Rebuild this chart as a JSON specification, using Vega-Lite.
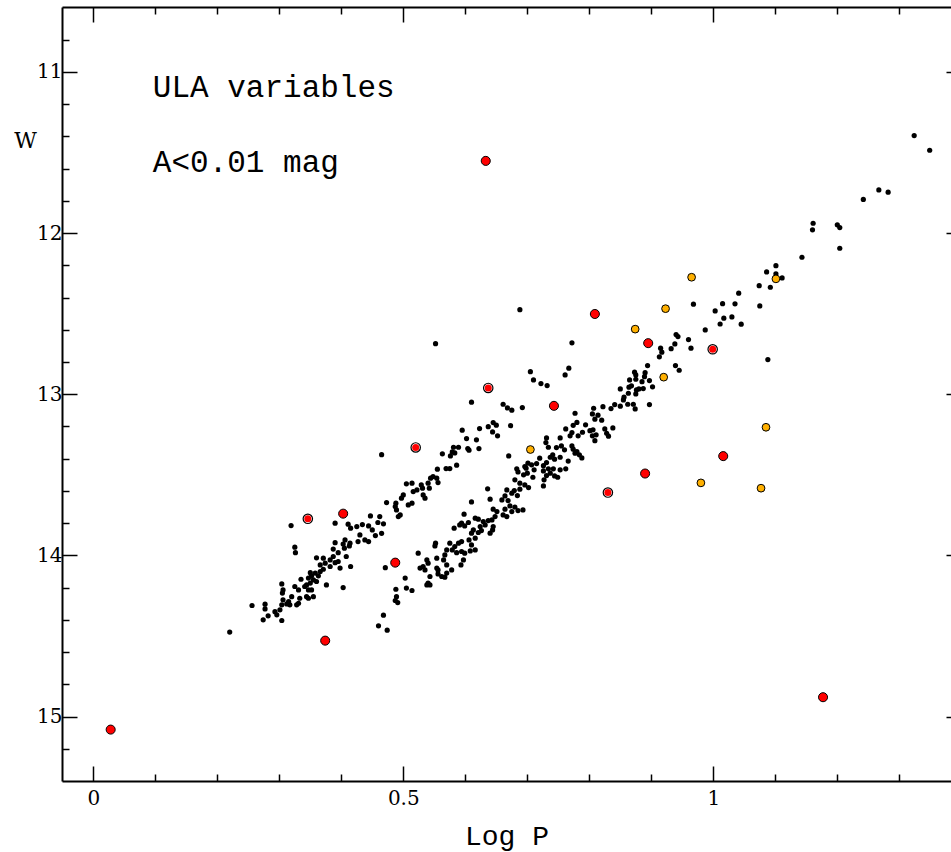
{
  "$schema": "https://vega.github.io/schema/vega-lite/v6.json",
  "width": 889,
  "height": 774,
  "autosize": "none",
  "padding": {"left": 62, "top": 7, "right": 0, "bottom": 71},
  "background": "white",
  "config": {
    "view": {"stroke": null},
    "font": "Liberation Mono",
    "axis": {
      "grid": false,
      "domainColor": "black",
      "domainWidth": 2,
      "tickColor": "black",
      "tickWidth": 1.5,
      "labelFont": "DejaVu Serif",
      "labelFontSize": 20,
      "labelColor": "black",
      "titleFont": "Liberation Mono",
      "titleFontWeight": "normal",
      "titleColor": "black"
    }
  },
  "datasets": {
    "stars": [
      {"logP":1.324,"W":11.395,"type":"main"},{"logP":1.349,"W":11.486,"type":"main"},{"logP":1.267,"W":11.732,"type":"main"},{"logP":1.282,"W":11.746,"type":"main"},{"logP":1.242,"W":11.791,"type":"main"},{"logP":1.161,"W":11.939,"type":"main"},{"logP":1.160,"W":11.980,"type":"main"},{"logP":1.200,"W":11.949,"type":"main"},{"logP":1.204,"W":11.966,"type":"main"},{"logP":1.204,"W":12.094,"type":"main"},{"logP":1.143,"W":12.150,"type":"main"},{"logP":1.101,"W":12.202,"type":"main"},{"logP":1.086,"W":12.241,"type":"main"},{"logP":1.101,"W":12.253,"type":"main"},{"logP":1.111,"W":12.278,"type":"main"},{"logP":1.074,"W":12.326,"type":"main"},{"logP":1.092,"W":12.336,"type":"main"},{"logP":1.041,"W":12.373,"type":"main"},{"logP":0.968,"W":12.441,"type":"main"},{"logP":1.015,"W":12.438,"type":"main"},{"logP":1.035,"W":12.439,"type":"main"},{"logP":1.075,"W":12.452,"type":"main"},{"logP":1.003,"W":12.483,"type":"main"},{"logP":1.017,"W":12.528,"type":"main"},{"logP":1.030,"W":12.520,"type":"main"},{"logP":1.011,"W":12.564,"type":"main"},{"logP":1.045,"W":12.565,"type":"main"},{"logP":0.987,"W":12.601,"type":"main"},{"logP":0.940,"W":12.630,"type":"main"},{"logP":0.943,"W":12.642,"type":"main"},{"logP":0.960,"W":12.661,"type":"main"},{"logP":0.938,"W":12.688,"type":"main"},{"logP":0.964,"W":12.714,"type":"main"},{"logP":0.915,"W":12.714,"type":"main"},{"logP":0.932,"W":12.717,"type":"main"},{"logP":0.917,"W":12.739,"type":"main"},{"logP":0.913,"W":12.768,"type":"main"},{"logP":1.088,"W":12.785,"type":"main"},{"logP":0.894,"W":12.822,"type":"main"},{"logP":0.939,"W":12.822,"type":"main"},{"logP":0.945,"W":12.851,"type":"main"},{"logP":0.873,"W":12.863,"type":"main"},{"logP":0.890,"W":12.866,"type":"main"},{"logP":0.875,"W":12.880,"type":"main"},{"logP":0.889,"W":12.891,"type":"main"},{"logP":0.875,"W":12.907,"type":"main"},{"logP":0.865,"W":12.911,"type":"main"},{"logP":0.897,"W":12.915,"type":"main"},{"logP":0.885,"W":12.922,"type":"main"},{"logP":0.868,"W":12.948,"type":"main"},{"logP":0.902,"W":12.954,"type":"main"},{"logP":0.864,"W":12.956,"type":"main"},{"logP":0.850,"W":12.967,"type":"main"},{"logP":0.880,"W":12.967,"type":"main"},{"logP":0.887,"W":12.965,"type":"main"},{"logP":0.876,"W":12.973,"type":"main"},{"logP":0.863,"W":12.994,"type":"main"},{"logP":0.856,"W":13.018,"type":"main"},{"logP":0.855,"W":13.035,"type":"main"},{"logP":0.875,"W":12.998,"type":"main"},{"logP":0.841,"W":13.064,"type":"main"},{"logP":0.850,"W":13.074,"type":"main"},{"logP":0.862,"W":13.062,"type":"main"},{"logP":0.871,"W":13.062,"type":"main"},{"logP":0.874,"W":13.091,"type":"main"},{"logP":0.897,"W":13.064,"type":"main"},{"logP":0.822,"W":13.077,"type":"main"},{"logP":0.835,"W":13.089,"type":"main"},{"logP":0.807,"W":13.087,"type":"main"},{"logP":0.805,"W":13.122,"type":"main"},{"logP":0.814,"W":13.130,"type":"main"},{"logP":0.809,"W":13.155,"type":"main"},{"logP":0.820,"W":13.161,"type":"main"},{"logP":0.794,"W":13.190,"type":"main"},{"logP":0.838,"W":13.209,"type":"main"},{"logP":0.825,"W":13.215,"type":"main"},{"logP":0.801,"W":13.226,"type":"main"},{"logP":0.806,"W":13.221,"type":"main"},{"logP":0.789,"W":13.236,"type":"main"},{"logP":0.811,"W":13.252,"type":"main"},{"logP":0.828,"W":13.242,"type":"main"},{"logP":0.831,"W":13.260,"type":"main"},{"logP":0.805,"W":13.258,"type":"main"},{"logP":0.809,"W":13.288,"type":"main"},{"logP":0.788,"W":13.395,"type":"main"},
      {"logP":0.688,"W":12.475,"type":"main"},{"logP":0.772,"W":12.681,"type":"main"},{"logP":0.705,"W":12.860,"type":"main"},{"logP":0.710,"W":12.911,"type":"main"},{"logP":0.722,"W":12.934,"type":"main"},{"logP":0.732,"W":12.946,"type":"main"},{"logP":0.761,"W":12.880,"type":"main"},{"logP":0.767,"W":12.838,"type":"main"},{"logP":0.661,"W":13.062,"type":"main"},{"logP":0.668,"W":13.085,"type":"main"},{"logP":0.675,"W":13.099,"type":"main"},{"logP":0.692,"W":13.083,"type":"main"},{"logP":0.673,"W":13.195,"type":"main"},{"logP":0.670,"W":13.383,"type":"main"},
      {"logP":0.777,"W":13.118,"type":"main"},{"logP":0.780,"W":13.175,"type":"main"},{"logP":0.774,"W":13.193,"type":"main"},{"logP":0.762,"W":13.215,"type":"main"},{"logP":0.772,"W":13.238,"type":"main"},{"logP":0.782,"W":13.258,"type":"main"},{"logP":0.769,"W":13.258,"type":"main"},{"logP":0.753,"W":13.271,"type":"main"},{"logP":0.731,"W":13.271,"type":"main"},{"logP":0.730,"W":13.300,"type":"main"},{"logP":0.734,"W":13.329,"type":"main"},{"logP":0.755,"W":13.321,"type":"main"},{"logP":0.747,"W":13.331,"type":"main"},{"logP":0.760,"W":13.345,"type":"main"},{"logP":0.772,"W":13.321,"type":"main"},{"logP":0.774,"W":13.341,"type":"main"},{"logP":0.780,"W":13.356,"type":"main"},{"logP":0.784,"W":13.376,"type":"main"},{"logP":0.777,"W":13.366,"type":"main"},{"logP":0.741,"W":13.376,"type":"main"},{"logP":0.744,"W":13.403,"type":"main"},{"logP":0.753,"W":13.391,"type":"main"},{"logP":0.737,"W":13.391,"type":"main"},{"logP":0.720,"W":13.397,"type":"main"},{"logP":0.715,"W":13.430,"type":"main"},{"logP":0.731,"W":13.424,"type":"main"},{"logP":0.726,"W":13.443,"type":"main"},{"logP":0.734,"W":13.463,"type":"main"},{"logP":0.742,"W":13.463,"type":"main"},{"logP":0.766,"W":13.415,"type":"main"},{"logP":0.762,"W":13.463,"type":"main"},{"logP":0.753,"W":13.469,"type":"main"},{"logP":0.701,"W":13.428,"type":"main"},{"logP":0.696,"W":13.449,"type":"main"},{"logP":0.707,"W":13.438,"type":"main"},{"logP":0.711,"W":13.469,"type":"main"},{"logP":0.698,"W":13.459,"type":"main"},{"logP":0.683,"W":13.463,"type":"main"},{"logP":0.685,"W":13.482,"type":"main"},{"logP":0.694,"W":13.500,"type":"main"},{"logP":0.700,"W":13.490,"type":"main"},{"logP":0.709,"W":13.515,"type":"main"},{"logP":0.726,"W":13.476,"type":"main"},{"logP":0.731,"W":13.505,"type":"main"},{"logP":0.737,"W":13.490,"type":"main"},{"logP":0.744,"W":13.507,"type":"main"},{"logP":0.749,"W":13.515,"type":"main"},{"logP":0.727,"W":13.531,"type":"main"},{"logP":0.726,"W":13.569,"type":"main"},{"logP":0.680,"W":13.531,"type":"main"},{"logP":0.688,"W":13.552,"type":"main"},{"logP":0.696,"W":13.563,"type":"main"},{"logP":0.702,"W":13.579,"type":"main"},{"logP":0.688,"W":13.589,"type":"main"},{"logP":0.679,"W":13.598,"type":"main"},{"logP":0.675,"W":13.614,"type":"main"},{"logP":0.684,"W":13.629,"type":"main"},{"logP":0.667,"W":13.594,"type":"main"},{"logP":0.664,"W":13.631,"type":"main"},{"logP":0.669,"W":13.660,"type":"main"},{"logP":0.659,"W":13.656,"type":"main"},{"logP":0.672,"W":13.693,"type":"main"},{"logP":0.680,"W":13.701,"type":"main"},{"logP":0.685,"W":13.722,"type":"main"},{"logP":0.693,"W":13.718,"type":"main"},{"logP":0.675,"W":13.728,"type":"main"},{"logP":0.664,"W":13.713,"type":"main"},{"logP":0.661,"W":13.749,"type":"main"},{"logP":0.667,"W":13.759,"type":"main"},
      {"logP":0.636,"W":13.587,"type":"main"},{"logP":0.640,"W":13.651,"type":"main"},{"logP":0.610,"W":13.668,"type":"main"},{"logP":0.645,"W":13.713,"type":"main"},{"logP":0.651,"W":13.728,"type":"main"},{"logP":0.648,"W":13.759,"type":"main"},{"logP":0.643,"W":13.780,"type":"main"},{"logP":0.616,"W":13.769,"type":"main"},{"logP":0.621,"W":13.775,"type":"main"},{"logP":0.629,"W":13.790,"type":"main"},{"logP":0.637,"W":13.784,"type":"main"},{"logP":0.632,"W":13.811,"type":"main"},{"logP":0.624,"W":13.821,"type":"main"},{"logP":0.626,"W":13.846,"type":"main"},{"logP":0.621,"W":13.858,"type":"main"},{"logP":0.613,"W":13.842,"type":"main"},{"logP":0.610,"W":13.862,"type":"main"},{"logP":0.616,"W":13.893,"type":"main"},{"logP":0.645,"W":13.821,"type":"main"},{"logP":0.644,"W":13.842,"type":"main"},{"logP":0.640,"W":13.862,"type":"main"},{"logP":0.598,"W":13.744,"type":"main"},{"logP":0.594,"W":13.800,"type":"main"},{"logP":0.591,"W":13.811,"type":"main"},{"logP":0.599,"W":13.817,"type":"main"},{"logP":0.605,"W":13.796,"type":"main"},{"logP":0.582,"W":13.831,"type":"main"},{"logP":0.606,"W":13.904,"type":"main"},{"logP":0.610,"W":13.935,"type":"main"},{"logP":0.616,"W":13.966,"type":"main"},{"logP":0.608,"W":13.972,"type":"main"},{"logP":0.594,"W":13.914,"type":"main"},{"logP":0.589,"W":13.924,"type":"main"},{"logP":0.583,"W":13.945,"type":"main"},{"logP":0.575,"W":13.924,"type":"main"},{"logP":0.579,"W":13.966,"type":"main"},{"logP":0.586,"W":13.983,"type":"main"},{"logP":0.594,"W":13.976,"type":"main"},{"logP":0.599,"W":13.986,"type":"main"},{"logP":0.597,"W":14.028,"type":"main"},{"logP":0.593,"W":14.059,"type":"main"},{"logP":0.552,"W":13.924,"type":"main"},{"logP":0.551,"W":13.941,"type":"main"},{"logP":0.570,"W":13.966,"type":"main"},{"logP":0.567,"W":13.997,"type":"main"},{"logP":0.565,"W":14.028,"type":"main"},{"logP":0.570,"W":14.059,"type":"main"},{"logP":0.578,"W":14.090,"type":"main"},{"logP":0.570,"W":14.110,"type":"main"},{"logP":0.562,"W":14.131,"type":"main"},{"logP":0.554,"W":14.017,"type":"main"},{"logP":0.554,"W":14.079,"type":"main"},{"logP":0.556,"W":14.090,"type":"main"},{"logP":0.538,"W":14.028,"type":"main"},{"logP":0.540,"W":14.048,"type":"main"},{"logP":0.532,"W":14.069,"type":"main"},{"logP":0.527,"W":14.079,"type":"main"},{"logP":0.535,"W":14.090,"type":"main"},{"logP":0.524,"W":13.986,"type":"main"},{"logP":0.543,"W":14.131,"type":"main"},{"logP":0.540,"W":14.172,"type":"main"},{"logP":0.538,"W":14.183,"type":"main"},{"logP":0.543,"W":14.183,"type":"main"},{"logP":0.556,"W":14.115,"type":"main"},{"logP":0.567,"W":14.135,"type":"main"},{"logP":0.503,"W":14.141,"type":"main"},{"logP":0.505,"W":14.203,"type":"main"},{"logP":0.514,"W":14.218,"type":"main"},{"logP":0.488,"W":14.210,"type":"main"},{"logP":0.489,"W":14.256,"type":"main"},{"logP":0.487,"W":14.280,"type":"main"},{"logP":0.491,"W":14.293,"type":"main"},{"logP":0.471,"W":14.076,"type":"main"},{"logP":0.468,"W":14.371,"type":"main"},{"logP":0.460,"W":14.437,"type":"main"},{"logP":0.474,"W":14.464,"type":"main"},
      {"logP":0.610,"W":13.049,"type":"main"},{"logP":0.645,"W":13.176,"type":"main"},{"logP":0.650,"W":13.192,"type":"main"},{"logP":0.637,"W":13.201,"type":"main"},{"logP":0.623,"W":13.213,"type":"main"},{"logP":0.644,"W":13.234,"type":"main"},{"logP":0.652,"W":13.258,"type":"main"},{"logP":0.595,"W":13.223,"type":"main"},{"logP":0.602,"W":13.275,"type":"main"},{"logP":0.618,"W":13.283,"type":"main"},{"logP":0.581,"W":13.329,"type":"main"},{"logP":0.589,"W":13.329,"type":"main"},{"logP":0.604,"W":13.337,"type":"main"},{"logP":0.606,"W":13.347,"type":"main"},{"logP":0.622,"W":13.337,"type":"main"},{"logP":0.579,"W":13.358,"type":"main"},{"logP":0.583,"W":13.364,"type":"main"},{"logP":0.576,"W":13.383,"type":"main"},{"logP":0.563,"W":13.370,"type":"main"},{"logP":0.555,"W":13.465,"type":"main"},{"logP":0.569,"W":13.461,"type":"main"},{"logP":0.575,"W":13.461,"type":"main"},{"logP":0.586,"W":13.440,"type":"main"},{"logP":0.548,"W":13.511,"type":"main"},{"logP":0.554,"W":13.521,"type":"main"},{"logP":0.556,"W":13.548,"type":"main"},{"logP":0.544,"W":13.521,"type":"main"},{"logP":0.540,"W":13.552,"type":"main"},{"logP":0.542,"W":13.583,"type":"main"},{"logP":0.529,"W":13.563,"type":"main"},{"logP":0.531,"W":13.583,"type":"main"},{"logP":0.532,"W":13.625,"type":"main"},{"logP":0.535,"W":13.645,"type":"main"},{"logP":0.522,"W":13.594,"type":"main"},{"logP":0.516,"W":13.604,"type":"main"},{"logP":0.514,"W":13.552,"type":"main"},{"logP":0.505,"W":13.556,"type":"main"},{"logP":0.500,"W":13.625,"type":"main"},{"logP":0.497,"W":13.645,"type":"main"},{"logP":0.508,"W":13.687,"type":"main"},{"logP":0.514,"W":13.676,"type":"main"},{"logP":0.488,"W":13.676,"type":"main"},{"logP":0.487,"W":13.697,"type":"main"},{"logP":0.489,"W":13.718,"type":"main"},{"logP":0.473,"W":13.672,"type":"main"},{"logP":0.492,"W":13.759,"type":"main"},{"logP":0.495,"W":13.749,"type":"main"},{"logP":0.447,"W":13.755,"type":"main"},{"logP":0.465,"W":13.375,"type":"main"},{"logP":0.552,"W":12.686,"type":"main"},
      {"logP":0.455,"W":13.877,"type":"main"},{"logP":0.450,"W":13.842,"type":"main"},{"logP":0.462,"W":13.759,"type":"main"},{"logP":0.468,"W":13.804,"type":"main"},{"logP":0.465,"W":13.863,"type":"main"},{"logP":0.459,"W":13.796,"type":"main"},
      {"logP":0.319,"W":13.815,"type":"main"},{"logP":0.325,"W":13.949,"type":"main"},{"logP":0.326,"W":13.983,"type":"main"},{"logP":0.390,"W":13.800,"type":"main"},{"logP":0.411,"W":13.806,"type":"main"},{"logP":0.415,"W":13.831,"type":"main"},{"logP":0.425,"W":13.821,"type":"main"},{"logP":0.434,"W":13.809,"type":"main"},{"logP":0.444,"W":13.817,"type":"main"},{"logP":0.430,"W":13.873,"type":"main"},{"logP":0.438,"W":13.904,"type":"main"},{"logP":0.444,"W":13.914,"type":"main"},{"logP":0.427,"W":13.914,"type":"main"},{"logP":0.414,"W":13.924,"type":"main"},{"logP":0.406,"W":13.904,"type":"main"},{"logP":0.403,"W":13.930,"type":"main"},{"logP":0.413,"W":13.941,"type":"main"},{"logP":0.390,"W":13.921,"type":"main"},{"logP":0.405,"W":13.955,"type":"main"},{"logP":0.387,"W":13.961,"type":"main"},{"logP":0.395,"W":13.983,"type":"main"},{"logP":0.408,"W":14.007,"type":"main"},{"logP":0.415,"W":14.069,"type":"main"},{"logP":0.387,"W":14.007,"type":"main"},{"logP":0.382,"W":14.028,"type":"main"},{"logP":0.390,"W":14.045,"type":"main"},{"logP":0.395,"W":14.038,"type":"main"},{"logP":0.398,"W":14.079,"type":"main"},{"logP":0.382,"W":14.069,"type":"main"},{"logP":0.374,"W":14.048,"type":"main"},{"logP":0.371,"W":14.086,"type":"main"},{"logP":0.366,"W":14.059,"type":"main"},{"logP":0.371,"W":14.017,"type":"main"},{"logP":0.360,"W":14.015,"type":"main"},{"logP":0.366,"W":14.100,"type":"main"},{"logP":0.358,"W":14.110,"type":"main"},{"logP":0.363,"W":14.127,"type":"main"},{"logP":0.350,"W":14.107,"type":"main"},{"logP":0.352,"W":14.127,"type":"main"},{"logP":0.347,"W":14.141,"type":"main"},{"logP":0.355,"W":14.152,"type":"main"},{"logP":0.350,"W":14.172,"type":"main"},{"logP":0.344,"W":14.183,"type":"main"},{"logP":0.360,"W":14.162,"type":"main"},{"logP":0.335,"W":14.148,"type":"main"},{"logP":0.341,"W":14.193,"type":"main"},{"logP":0.347,"W":14.214,"type":"main"},{"logP":0.352,"W":14.214,"type":"main"},{"logP":0.376,"W":14.183,"type":"main"},{"logP":0.403,"W":14.200,"type":"main"},{"logP":0.304,"W":14.177,"type":"main"},{"logP":0.306,"W":14.214,"type":"main"},{"logP":0.305,"W":14.234,"type":"main"},{"logP":0.325,"W":14.193,"type":"main"},{"logP":0.331,"W":14.214,"type":"main"},{"logP":0.320,"W":14.256,"type":"main"},{"logP":0.315,"W":14.287,"type":"main"},{"logP":0.306,"W":14.276,"type":"main"},{"logP":0.304,"W":14.307,"type":"main"},{"logP":0.312,"W":14.301,"type":"main"},{"logP":0.333,"W":14.266,"type":"main"},{"logP":0.331,"W":14.297,"type":"main"},{"logP":0.344,"W":14.256,"type":"main"},{"logP":0.347,"W":14.266,"type":"main"},{"logP":0.355,"W":14.256,"type":"main"},{"logP":0.328,"W":14.307,"type":"main"},{"logP":0.317,"W":14.307,"type":"main"},{"logP":0.256,"W":14.311,"type":"main"},{"logP":0.277,"W":14.303,"type":"main"},{"logP":0.277,"W":14.332,"type":"main"},{"logP":0.282,"W":14.375,"type":"main"},{"logP":0.274,"W":14.400,"type":"main"},{"logP":0.293,"W":14.349,"type":"main"},{"logP":0.301,"W":14.338,"type":"main"},{"logP":0.296,"W":14.369,"type":"main"},{"logP":0.304,"W":14.404,"type":"main"},{"logP":0.220,"W":14.476,"type":"main"},
      {"logP":0.633,"W":11.552,"type":"red"},{"logP":0.028,"W":15.081,"type":"red"},{"logP":0.374,"W":14.529,"type":"red"},{"logP":1.177,"W":14.880,"type":"red"},{"logP":0.403,"W":13.741,"type":"red"},{"logP":0.487,"W":14.045,"type":"red"},{"logP":0.743,"W":13.072,"type":"red"},{"logP":0.809,"W":12.502,"type":"red"},{"logP":0.895,"W":12.683,"type":"red"},{"logP":1.016,"W":13.384,"type":"red"},{"logP":0.890,"W":13.492,"type":"red"},
      {"logP":0.346,"W":13.773,"type":"ring"},{"logP":0.520,"W":13.330,"type":"ring"},{"logP":0.637,"W":12.961,"type":"ring"},{"logP":0.999,"W":12.721,"type":"ring"},{"logP":0.830,"W":13.610,"type":"ring"},
      {"logP":0.965,"W":12.274,"type":"orange"},{"logP":0.923,"W":12.469,"type":"orange"},{"logP":0.874,"W":12.596,"type":"orange"},{"logP":1.101,"W":12.284,"type":"orange"},{"logP":0.920,"W":12.894,"type":"orange"},{"logP":1.085,"W":13.205,"type":"orange"},{"logP":0.980,"W":13.550,"type":"orange"},{"logP":1.077,"W":13.583,"type":"orange"},{"logP":0.705,"W":13.343,"type":"orange"}
    ],
    "notes": [
      {"logP":0.096,"W":11.155,"label":"ULA variables"},
      {"logP":0.096,"W":11.62,"label":"A<0.01 mag"}
    ]
  },
  "layer": [
    {
      "data": {"name": "stars"},
      "transform": [{"filter": "datum.type === 'main'"}],
      "mark": {"type": "circle", "size": 27, "color": "black", "opacity": 1},
      "encoding": {
        "x": {
          "field": "logP", "type": "quantitative",
          "scale": {"domain": [-0.0505, 1.3834], "nice": false, "zero": false},
          "axis": {
            "orient": "bottom",
            "values": [0, 0.1, 0.2, 0.3, 0.4, 0.5, 0.6, 0.7, 0.8, 0.9, 1, 1.1, 1.2, 1.3],
            "tickSize": {"condition": {"test": "datum.value === 0 || datum.value === 0.5 || datum.value === 1", "value": -15}, "value": -7},
            "labelExpr": "datum.value === 0 ? '0' : datum.value === 0.5 ? '0.5' : datum.value === 1 ? '1' : ''",
            "labelPadding": 22,
            "labelFlush": false,
            "labelOverlap": false,
            "title": "Log P",
            "titleFontSize": 28,
            "titleBaseline": "alphabetic",
            "titleY": 63
          }
        },
        "y": {
          "field": "W", "type": "quantitative",
          "scale": {"domain": [10.597, 15.4], "nice": false, "zero": false, "reverse": true},
          "axis": {
            "orient": "left",
            "values": [10.8, 11, 11.2, 11.4, 11.6, 11.8, 12, 12.2, 12.4, 12.6, 12.8, 13, 13.2, 13.4, 13.6, 13.8, 14, 14.2, 14.4, 14.6, 14.8, 15, 15.2],
            "tickSize": {"condition": {"test": "datum.value % 1 === 0", "value": -15}, "value": -7},
            "labelExpr": "datum.value % 1 === 0 ? format(datum.value, 'd') : ''",
            "labelPadding": 15,
            "labelFlush": false,
            "labelOverlap": false,
            "title": "W",
            "titleFont": "DejaVu Serif",
            "titleAngle": 0,
            "titleFontSize": 22,
            "titleAlign": "center",
            "titleBaseline": "middle",
            "titleX": -37,
            "titleY": 133
          }
        }
      }
    },
    {
      "data": {"name": "stars"},
      "transform": [{"filter": "datum.type === 'red'"}],
      "mark": {"type": "circle", "size": 82, "fill": "#ff0000", "stroke": "black", "strokeWidth": 1, "opacity": 1},
      "encoding": {
        "x": {
          "field": "logP", "type": "quantitative",
          "scale": {"domain": [-0.0505, 1.3834], "nice": false, "zero": false},
          "axis": {
            "orient": "top",
            "values": [0, 0.1, 0.2, 0.3, 0.4, 0.5, 0.6, 0.7, 0.8, 0.9, 1, 1.1, 1.2, 1.3],
            "tickSize": {"condition": {"test": "datum.value === 0 || datum.value === 0.5 || datum.value === 1", "value": -15}, "value": -7},
            "labels": false,
            "title": null
          }
        },
        "y": {
          "field": "W", "type": "quantitative",
          "scale": {"domain": [10.597, 15.4], "nice": false, "zero": false, "reverse": true},
          "axis": {
            "orient": "right",
            "values": [11, 12, 13, 14, 15],
            "tickSize": -5,
            "domain": false,
            "labels": false,
            "title": null
          }
        }
      }
    },
    {
      "data": {"name": "stars"},
      "transform": [{"filter": "datum.type === 'orange'"}],
      "mark": {"type": "circle", "size": 60, "fill": "#ffb000", "stroke": "black", "strokeWidth": 1, "opacity": 1},
      "encoding": {
        "x": {"field": "logP", "type": "quantitative", "scale": {"domain": [-0.0505, 1.3834], "nice": false, "zero": false}, "axis": null},
        "y": {"field": "W", "type": "quantitative", "scale": {"domain": [10.597, 15.4], "nice": false, "zero": false, "reverse": true}, "axis": null}
      }
    },
    {
      "data": {"name": "stars"},
      "transform": [{"filter": "datum.type === 'ring'"}],
      "mark": {"type": "circle", "size": 88, "fill": "white", "stroke": "black", "strokeWidth": 1.2, "opacity": 1},
      "encoding": {
        "x": {"field": "logP", "type": "quantitative", "scale": {"domain": [-0.0505, 1.3834], "nice": false, "zero": false}, "axis": null},
        "y": {"field": "W", "type": "quantitative", "scale": {"domain": [10.597, 15.4], "nice": false, "zero": false, "reverse": true}, "axis": null}
      }
    },
    {
      "data": {"name": "stars"},
      "transform": [{"filter": "datum.type === 'ring'"}],
      "mark": {"type": "circle", "size": 50, "fill": "#ff0000", "opacity": 1},
      "encoding": {
        "x": {"field": "logP", "type": "quantitative", "scale": {"domain": [-0.0505, 1.3834], "nice": false, "zero": false}, "axis": null},
        "y": {"field": "W", "type": "quantitative", "scale": {"domain": [10.597, 15.4], "nice": false, "zero": false, "reverse": true}, "axis": null}
      }
    },
    {
      "data": {"name": "notes"},
      "mark": {"type": "text", "font": "Liberation Mono", "fontSize": 31, "align": "left", "baseline": "alphabetic", "color": "black"},
      "encoding": {
        "x": {"field": "logP", "type": "quantitative", "scale": {"domain": [-0.0505, 1.3834], "nice": false, "zero": false}, "axis": null},
        "y": {"field": "W", "type": "quantitative", "scale": {"domain": [10.597, 15.4], "nice": false, "zero": false, "reverse": true}, "axis": null},
        "text": {"field": "label"}
      }
    }
  ],
  "resolve": {"axis": {"x": "independent", "y": "independent"}}
}
